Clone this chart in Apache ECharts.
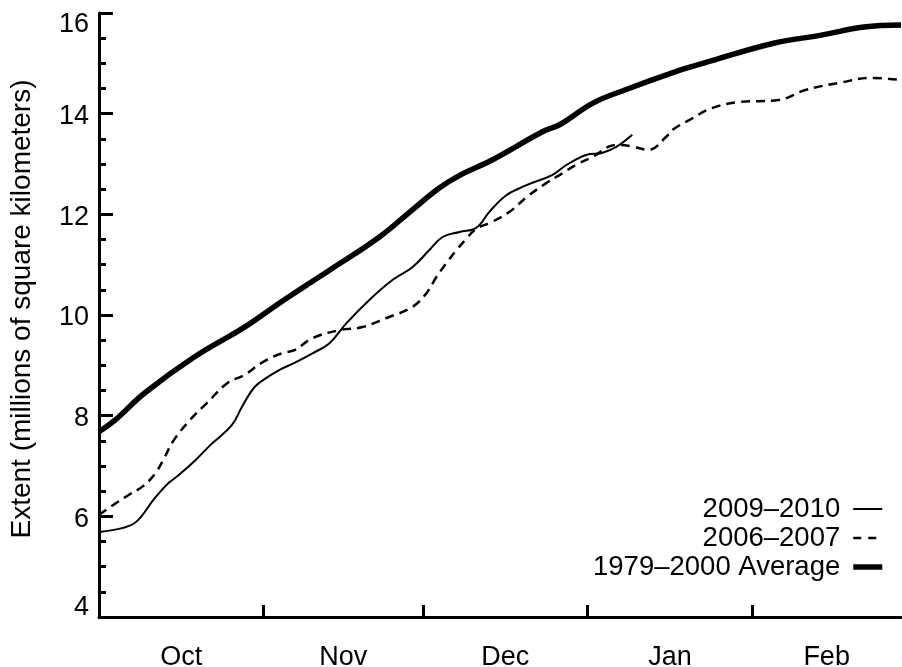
<!DOCTYPE html>
<html>
<head>
<meta charset="utf-8">
<script src="https://cdn.jsdelivr.net/npm/echarts@6/dist/echarts.min.js"></script>
<style>
html,body{margin:0;padding:0;background:#fff;}
#Result{width:902px;height:667px;}
</style>
</head>
<body>
<div id="Result"></div>
<script>
// x values are days counted from 1 October
var monthNames = ['Oct', 'Nov', 'Dec', 'Jan', 'Feb'];
var monthMids = [15.5, 46, 76.5, 107.5, 137];
var monthStarts = [31, 61, 92, 123];

var avgDays = [0, 3, 8.6, 18, 27.4, 34, 37, 43.4, 52.8, 59, 64, 68, 74, 83.5, 86.7, 93, 99, 109, 114, 127, 136, 144, 151];
var avgExtent = [7.68, 7.91, 8.45, 9.17, 9.76, 10.24, 10.45, 10.89, 11.55, 12.09, 12.52, 12.78, 13.08, 13.64, 13.78, 14.21, 14.47, 14.85, 15.01, 15.40, 15.56, 15.72, 15.76];

var d0607Days = [0, 2.6, 5.5, 8.3, 10.5, 12, 14, 17.1, 20.3, 24.2, 27.4, 30.6, 34.4, 36.8, 40.2, 45.3, 49.6, 54.1, 59, 61.7, 63.5, 65.4, 67.3, 69.2, 71, 74, 77.3, 80.5, 84.2, 86.7, 89.8, 92.9, 97.4, 100.4, 103.5, 106.8, 108, 111.1, 115.4, 120.5, 128, 133, 139.3, 145.5, 150.8];
var d0607Extent = [6.03, 6.22, 6.42, 6.6, 6.84, 7.1, 7.5, 7.91, 8.25, 8.65, 8.81, 9.05, 9.24, 9.3, 9.54, 9.7, 9.76, 9.94, 10.16, 10.44, 10.75, 11.03, 11.29, 11.52, 11.71, 11.85, 12.05, 12.34, 12.62, 12.78, 12.98, 13.14, 13.38, 13.35, 13.28, 13.54, 13.68, 13.87, 14.11, 14.23, 14.27, 14.47, 14.61, 14.71, 14.67];

var d0910Days = [0, 4.5, 7.1, 10.2, 11.8, 13.3, 14.8, 18.2, 21, 25, 26.9, 29.3, 31.8, 34, 36.8, 40.2, 43.4, 46.6, 50.9, 55.3, 59, 62.2, 64.7, 67.9, 71, 73.5, 76.7, 80.5, 85.3, 88, 91.7, 94.7, 97.4, 100.4];
var d0910Extent = [5.69, 5.77, 5.9, 6.32, 6.52, 6.68, 6.8, 7.12, 7.42, 7.81, 8.17, 8.57, 8.77, 8.91, 9.05, 9.24, 9.44, 9.84, 10.3, 10.7, 10.95, 11.29, 11.55, 11.65, 11.73, 12.05, 12.38, 12.58, 12.78, 12.98, 13.18, 13.22, 13.34, 13.58];

function pairs(xs, ys) {
    var out = [];
    for (var i = 0; i < xs.length; i++) {
        out.push([xs[i], ys[i]]);
    }
    return out;
}

var dom = document.getElementById("Result");
var myChart = echarts.init(dom, null, {renderer: 'canvas'});
var font = "'Liberation Sans', Arial, Helvetica, sans-serif";

var option = {
    animation: false,
    backgroundColor: '#fff',
    textStyle: {fontFamily: font, color: '#000'},
    grid: {
        left: 99,
        right: 1,
        top: 13,
        bottom: 50,
        containLabel: false,
        outerBoundsMode: 'none'
    },
    legend: {
        orient: 'vertical',
        align: 'right',
        right: 17,
        top: 495,
        padding: 0,
        itemGap: 1,
        itemWidth: 29,
        itemHeight: 12,
        itemStyle: {opacity: 0},
        textStyle: {fontFamily: font, fontSize: 27.5, color: '#000', padding: [0, 8, 0, 0]},
        data: [
            {name: '2009–2010', lineStyle: {color: '#000', width: 2}},
            {name: '2006–2007', lineStyle: {color: '#000', width: 2.5, type: [8, 7]}},
            {name: '1979–2000 Average', lineStyle: {color: '#000', width: 5.5}}
        ]
    },
    xAxis: {
        type: 'value',
        min: 0,
        max: 151,
        splitLine: {show: false},
        axisLine: {show: true, onZero: false, lineStyle: {color: '#000', width: 3}},
        axisTick: {
            show: true,
            inside: true,
            length: 12,
            customValues: monthStarts,
            lineStyle: {color: '#000', width: 3}
        },
        axisLabel: {
            show: true,
            margin: 27,
            fontSize: 27,
            fontFamily: font,
            color: '#000',
            customValues: monthMids,
            formatter: function (v) {
                var i = monthMids.indexOf(v);
                return i >= 0 ? monthNames[i] : '';
            }
        }
    },
    yAxis: {
        type: 'value',
        min: 4,
        max: 16,
        interval: 2,
        name: 'Extent (millions of square kilometers)',
        nameLocation: 'middle',
        nameGap: 63,
        nameTextStyle: {fontSize: 28, fontFamily: font, color: '#000', padding: [0, 0, 0, 12]},
        splitLine: {show: false},
        axisLine: {show: true, onZero: false, lineStyle: {color: '#000', width: 3}},
        axisTick: {show: true, inside: true, length: 14, lineStyle: {color: '#000', width: 3}},
        minorTick: {show: true, splitNumber: 4, length: 7, lineStyle: {color: '#000', width: 3}},
        axisLabel: {
            margin: 10,
            fontSize: 27,
            fontFamily: font,
            color: '#000',
            formatter: function (v) {
                if (v === 16) return '{top|' + v + '}';
                if (v === 4) return '{bot|' + v + '}';
                return '{n|' + v + '}';
            },
            rich: {
                n: {fontSize: 27, fontFamily: font, color: '#000', padding: [6, 0, 0, 0]},
                top: {fontSize: 27, fontFamily: font, color: '#000', padding: [24, 0, 0, 0]},
                bot: {fontSize: 27, fontFamily: font, color: '#000', padding: [0, 0, 18, 0]}
            }
        }
    },
    series: [
        {
            name: '2009–2010',
            type: 'line',
            symbol: 'none',
            smooth: 0.4,
            lineStyle: {color: '#000', width: 2},
            itemStyle: {color: '#000'},
            data: pairs(d0910Days, d0910Extent)
        },
        {
            name: '2006–2007',
            type: 'line',
            symbol: 'none',
            smooth: 0.4,
            lineStyle: {color: '#000', width: 2.5, type: [9, 6]},
            itemStyle: {color: '#000'},
            data: pairs(d0607Days, d0607Extent)
        },
        {
            name: '1979–2000 Average',
            type: 'line',
            symbol: 'none',
            smooth: 0.4,
            lineStyle: {color: '#000', width: 5.5},
            itemStyle: {color: '#000'},
            data: pairs(avgDays, avgExtent)
        }
    ]
};

if (option && typeof option === "object") {
    myChart.setOption(option, true);
}
</script>
</body>
</html>
